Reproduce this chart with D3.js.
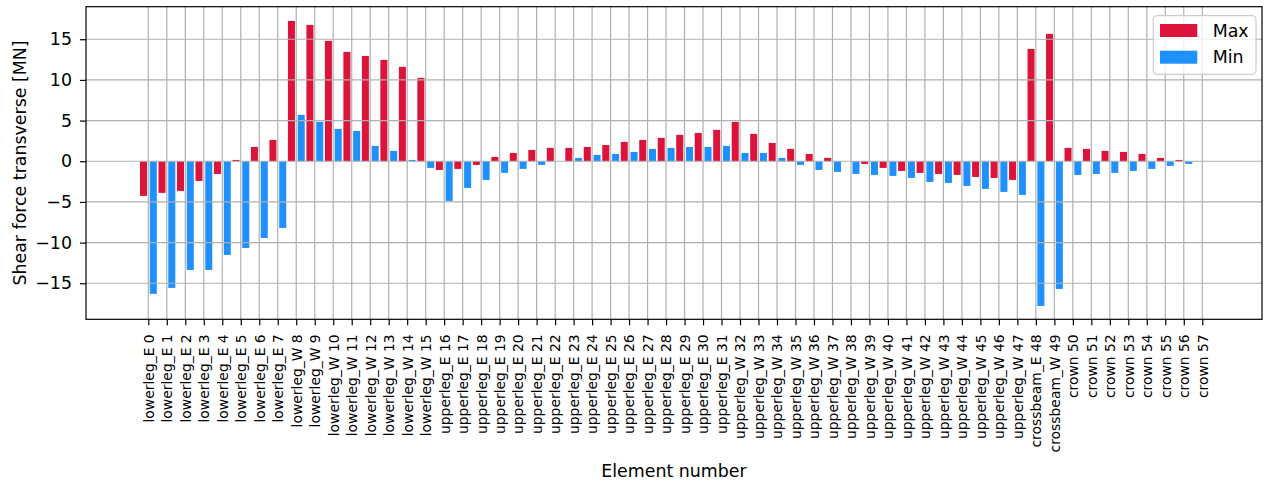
<!DOCTYPE html>
<html>
<head>
<meta charset="utf-8">
<script src="https://cdn.jsdelivr.net/npm/d3@7"></script>
<style>
  html, body { margin: 0; padding: 0; background: #fff; }
  svg { display: block; font-family: "DejaVu Sans", sans-serif; }
</style>
</head>
<body>
<svg id="chart" width="1265" height="484"></svg>
<script>
// Element names along the frame
const categories = [
  "lowerleg_E 0", "lowerleg_E 1", "lowerleg_E 2", "lowerleg_E 3",
  "lowerleg_E 4", "lowerleg_E 5", "lowerleg_E 6", "lowerleg_E 7",
  "lowerleg_W 8", "lowerleg_W 9", "lowerleg_W 10", "lowerleg_W 11",
  "lowerleg_W 12", "lowerleg_W 13", "lowerleg_W 14", "lowerleg_W 15",
  "upperleg_E 16", "upperleg_E 17", "upperleg_E 18", "upperleg_E 19",
  "upperleg_E 20", "upperleg_E 21", "upperleg_E 22", "upperleg_E 23",
  "upperleg_E 24", "upperleg_E 25", "upperleg_E 26", "upperleg_E 27",
  "upperleg_E 28", "upperleg_E 29", "upperleg_E 30", "upperleg_E 31",
  "upperleg_W 32", "upperleg_W 33", "upperleg_W 34", "upperleg_W 35",
  "upperleg_W 36", "upperleg_W 37", "upperleg_W 38", "upperleg_W 39",
  "upperleg_W 40", "upperleg_W 41", "upperleg_W 42", "upperleg_W 43",
  "upperleg_W 44", "upperleg_W 45", "upperleg_W 46", "upperleg_W 47",
  "crossbeam_E 48", "crossbeam_W 49",
  "crown 50", "crown 51", "crown 52", "crown 53",
  "crown 54", "crown 55", "crown 56", "crown 57"
];

// Transverse shear force envelope [MN]
const maxValues = [
  -4.26, -3.89, -3.65, -2.42, -1.56, 0.16, 1.76, 2.62,
  17.25, 16.76, 14.8, 13.44, 12.95, 12.46, 11.6, 10.25,
  -1.07, -0.94, -0.45, 0.53, 1.02, 1.39, 1.64, 1.64,
  1.76, 2.0, 2.38, 2.62, 2.87, 3.24, 3.48, 3.85,
  4.84, 3.36, 2.25, 1.52, 0.9, 0.41, 0.0, -0.33,
  -0.82, -1.19, -1.43, -1.56, -1.68, -1.93, -2.05, -2.3,
  13.81, 15.66,
  1.64, 1.52, 1.27, 1.15, 0.9, 0.41, 0.16, 0.0
];
const minValues = [
  -16.3, -15.57, -13.36, -13.36, -11.52, -10.66, -9.43, -8.2,
  5.7, 4.84, 3.98, 3.73, 1.89, 1.27, 0.16, -0.82,
  -4.88, -3.28, -2.3, -1.43, -0.94, -0.45, 0.0, 0.41,
  0.78, 0.9, 1.15, 1.52, 1.64, 1.76, 1.76, 1.89,
  1.02, 1.02, 0.41, -0.45, -1.07, -1.31, -1.56, -1.68,
  -1.8, -2.05, -2.54, -2.66, -3.03, -3.4, -3.77, -4.14,
  -17.79, -15.7,
  -1.68, -1.56, -1.43, -1.19, -0.94, -0.57, -0.33, 0.0
];
const yTicks = [-15, -10, -5, 0, 5, 10, 15];
const seriesNames = ["Max", "Min"];
const seriesColors = ["#DC143C", "#1E90FF"];

const svg = d3.select("#chart");
const plot = { left: 86, right: 1262, top: 6.7, bottom: 319.3 };

const x = d3.scaleLinear().domain([-3.37, 60.23]).range([plot.left, plot.right]);
const y = d3.scaleLinear().domain([-19.43, 19.0]).range([plot.bottom, plot.top]);

const barW = 0.38;
const offsets = [-0.45, 0.08];

// Bars
const series = [maxValues, minValues];
series.forEach((vals, s) => {
  svg.append("g")
    .selectAll("rect")
    .data(vals)
    .join("rect")
    .attr("x", (d, i) => x(i + offsets[s]))
    .attr("width", x(barW) - x(0))
    .attr("y", d => y(Math.max(0, d)))
    .attr("height", d => Math.abs(y(d) - y(0)))
    .attr("fill", seriesColors[s]);
});

// Grid drawn above the bars
const grid = svg.append("g").attr("stroke", "#b0b0b0").attr("stroke-width", 1.2);
grid.selectAll("line.gx")
  .data(d3.range(categories.length))
  .join("line")
  .attr("x1", i => x(i)).attr("x2", i => x(i))
  .attr("y1", plot.top).attr("y2", plot.bottom);
grid.selectAll("line.gy")
  .data(yTicks)
  .join("line")
  .attr("x1", plot.left).attr("x2", plot.right)
  .attr("y1", d => y(d)).attr("y2", d => y(d));

// Axes
const xAxis = d3.axisBottom(x)
  .tickValues(d3.range(categories.length))
  .tickFormat(i => categories[i])
  .tickSize(6)
  .tickSizeOuter(0);
const gx = svg.append("g")
  .attr("transform", `translate(0,${plot.bottom})`)
  .call(xAxis);
gx.select(".domain").remove();
gx.selectAll(".tick line").attr("stroke", "#000").attr("stroke-width", 1.2);
gx.selectAll(".tick text")
  .attr("font-size", "13.9px")
  .attr("font-family", "DejaVu Sans")
  .attr("fill", "#000")
  .attr("text-anchor", "end")
  .attr("transform", "translate(0,15) rotate(-90)")
  .attr("x", 0)
  .attr("y", 0)
  .attr("dy", "0.35em");

const yAxis = d3.axisLeft(y)
  .tickValues(yTicks)
  .tickFormat(d => d < 0 ? "\u2212" + Math.abs(d) : String(d))
  .tickSize(6)
  .tickPadding(8)
  .tickSizeOuter(0);
const gy = svg.append("g")
  .attr("transform", `translate(${plot.left},0)`)
  .call(yAxis);
gy.select(".domain").remove();
gy.selectAll(".tick line").attr("stroke", "#000").attr("stroke-width", 1.2);
gy.selectAll(".tick text")
  .attr("font-size", "17.4px")
  .attr("font-family", "DejaVu Sans")
  .attr("fill", "#000");

// Frame
svg.append("rect")
  .attr("x", plot.left).attr("y", plot.top)
  .attr("width", plot.right - plot.left)
  .attr("height", plot.bottom - plot.top)
  .attr("fill", "none")
  .attr("stroke", "#000")
  .attr("stroke-width", 1.2);

// Axis titles
svg.append("text")
  .attr("x", (plot.left + plot.right) / 2)
  .attr("y", 477)
  .attr("text-anchor", "middle")
  .attr("font-size", "17.4px")
  .text("Element number");

svg.append("text")
  .attr("transform", `translate(20,${(plot.top + plot.bottom) / 2}) rotate(-90)`)
  .attr("text-anchor", "middle")
  .attr("dy", "0.35em")
  .attr("font-size", "17.4px")
  .text("Shear force transverse [MN]");

// Legend
const legend = svg.append("g").attr("transform", "translate(1153.3,15.7)");
legend.append("rect")
  .attr("width", 102.7).attr("height", 58.6)
  .attr("rx", 4).attr("ry", 4)
  .attr("fill", "#fff").attr("fill-opacity", 0.8)
  .attr("stroke", "#cccccc").attr("stroke-width", 1.2);
seriesNames.forEach((name, s) => {
  const row = legend.append("g").attr("transform", `translate(0,${s * 26.7})`);
  row.append("rect")
    .attr("x", 6.7).attr("y", 8.3)
    .attr("width", 37.3).attr("height", 13)
    .attr("fill", seriesColors[s]);
  row.append("text")
    .attr("x", 59.4).attr("y", 14.8)
    .attr("dy", "0.35em")
    .attr("font-size", "17.4px")
    .text(name);
});
</script>
</body>
</html>
